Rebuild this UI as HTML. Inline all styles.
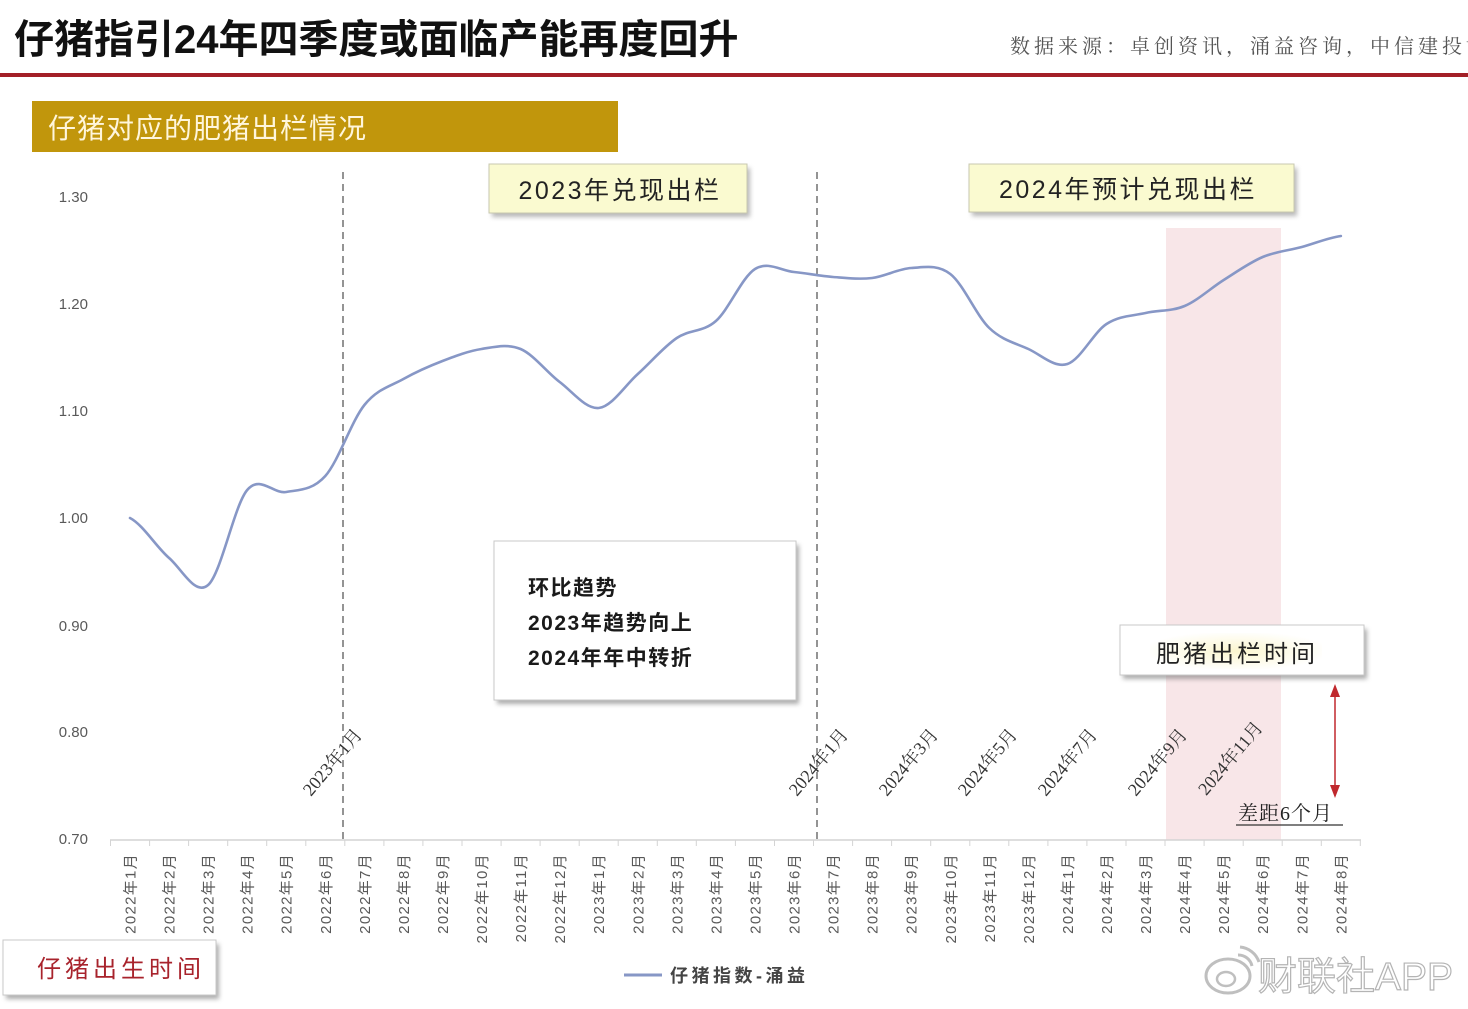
<!DOCTYPE html>
<html><head><meta charset="utf-8">
<style>
html,body{margin:0;padding:0;background:#fff;}
svg{display:block;}
text{font-family:"Liberation Sans","Noto Sans CJK SC",sans-serif;}
</style></head>
<body>
<svg width="1468" height="1009" viewBox="0 0 1468 1009" xmlns="http://www.w3.org/2000/svg">
<defs>
<filter id="sh" x="-10%" y="-10%" width="130%" height="140%">
<feGaussianBlur stdDeviation="2.5"/>
</filter>
<radialGradient id="glow" cx="50%" cy="50%" r="55%">
<stop offset="0%" stop-color="#fbf6cf"/>
<stop offset="100%" stop-color="#ffffff"/>
</radialGradient>
</defs>
<rect width="1468" height="1009" fill="#fff"/>

<!-- Header -->
<text x="14" y="53" font-size="40" font-weight="bold" fill="#111">仔猪指引24年四季度或面临产能再度回升</text>
<text x="1010" y="53" font-size="20" fill="#555" letter-spacing="4" style="font-family:'Liberation Serif','Noto Serif CJK SC',serif">数据来源：卓创资讯，涌益咨询，中信建投证券</text>
<rect x="0" y="73" width="1468" height="4" fill="#a31f27"/>

<!-- Gold banner -->
<rect x="32" y="101" width="586" height="51" fill="#c1960c"/>
<text x="48" y="138" font-size="28" fill="#fff6dc" letter-spacing="1">仔猪对应的肥猪出栏情况</text>

<!-- shaded region -->
<rect x="1166" y="228" width="115" height="612" fill="#f8e6e8"/>

<!-- Y labels -->
<g font-size="15" fill="#595959" text-anchor="end">
<text x="88" y="202">1.30</text>
<text x="88" y="309">1.20</text>
<text x="88" y="416">1.10</text>
<text x="88" y="523">1.00</text>
<text x="88" y="631">0.90</text>
<text x="88" y="737">0.80</text>
<text x="88" y="844">0.70</text>
</g>

<!-- axis -->
<line x1="110" y1="840" x2="1361" y2="840" stroke="#d4d4d4" stroke-width="1.5"/>
<g stroke="#d4d4d4" stroke-width="1">
<line x1="110.5" y1="840" x2="110.5" y2="846"/><line x1="149.6" y1="840" x2="149.6" y2="846"/><line x1="188.6" y1="840" x2="188.6" y2="846"/><line x1="227.7" y1="840" x2="227.7" y2="846"/><line x1="266.7" y1="840" x2="266.7" y2="846"/><line x1="305.8" y1="840" x2="305.8" y2="846"/><line x1="344.8" y1="840" x2="344.8" y2="846"/><line x1="383.9" y1="840" x2="383.9" y2="846"/><line x1="422.9" y1="840" x2="422.9" y2="846"/><line x1="462" y1="840" x2="462" y2="846"/><line x1="501.1" y1="840" x2="501.1" y2="846"/><line x1="540.1" y1="840" x2="540.1" y2="846"/><line x1="579.2" y1="840" x2="579.2" y2="846"/><line x1="618.2" y1="840" x2="618.2" y2="846"/><line x1="657.3" y1="840" x2="657.3" y2="846"/><line x1="696.3" y1="840" x2="696.3" y2="846"/><line x1="735.4" y1="840" x2="735.4" y2="846"/><line x1="774.5" y1="840" x2="774.5" y2="846"/><line x1="813.5" y1="840" x2="813.5" y2="846"/><line x1="852.6" y1="840" x2="852.6" y2="846"/><line x1="891.6" y1="840" x2="891.6" y2="846"/><line x1="930.7" y1="840" x2="930.7" y2="846"/><line x1="969.8" y1="840" x2="969.8" y2="846"/><line x1="1008.8" y1="840" x2="1008.8" y2="846"/><line x1="1047.9" y1="840" x2="1047.9" y2="846"/><line x1="1086.9" y1="840" x2="1086.9" y2="846"/><line x1="1126" y1="840" x2="1126" y2="846"/><line x1="1165" y1="840" x2="1165" y2="846"/><line x1="1204.1" y1="840" x2="1204.1" y2="846"/><line x1="1243.2" y1="840" x2="1243.2" y2="846"/><line x1="1282.2" y1="840" x2="1282.2" y2="846"/><line x1="1321.3" y1="840" x2="1321.3" y2="846"/><line x1="1360.3" y1="840" x2="1360.3" y2="846"/>
</g>

<!-- X labels -->
<g font-size="15" fill="#595959" text-anchor="end" letter-spacing="1.3">
<text transform="translate(135.5,853) rotate(-90)">2022年1月</text>
<text transform="translate(174.6,853) rotate(-90)">2022年2月</text>
<text transform="translate(213.6,853) rotate(-90)">2022年3月</text>
<text transform="translate(252.7,853) rotate(-90)">2022年4月</text>
<text transform="translate(291.7,853) rotate(-90)">2022年5月</text>
<text transform="translate(330.8,853) rotate(-90)">2022年6月</text>
<text transform="translate(369.9,853) rotate(-90)">2022年7月</text>
<text transform="translate(408.9,853) rotate(-90)">2022年8月</text>
<text transform="translate(448,853) rotate(-90)">2022年9月</text>
<text transform="translate(487,853) rotate(-90)">2022年10月</text>
<text transform="translate(526.1,853) rotate(-90)">2022年11月</text>
<text transform="translate(565.2,853) rotate(-90)">2022年12月</text>
<text transform="translate(604.2,853) rotate(-90)">2023年1月</text>
<text transform="translate(643.3,853) rotate(-90)">2023年2月</text>
<text transform="translate(682.3,853) rotate(-90)">2023年3月</text>
<text transform="translate(721.4,853) rotate(-90)">2023年4月</text>
<text transform="translate(760.5,853) rotate(-90)">2023年5月</text>
<text transform="translate(799.5,853) rotate(-90)">2023年6月</text>
<text transform="translate(838.6,853) rotate(-90)">2023年7月</text>
<text transform="translate(877.6,853) rotate(-90)">2023年8月</text>
<text transform="translate(916.7,853) rotate(-90)">2023年9月</text>
<text transform="translate(955.8,853) rotate(-90)">2023年10月</text>
<text transform="translate(994.8,853) rotate(-90)">2023年11月</text>
<text transform="translate(1033.9,853) rotate(-90)">2023年12月</text>
<text transform="translate(1072.9,853) rotate(-90)">2024年1月</text>
<text transform="translate(1112,853) rotate(-90)">2024年2月</text>
<text transform="translate(1151,853) rotate(-90)">2024年3月</text>
<text transform="translate(1190.1,853) rotate(-90)">2024年4月</text>
<text transform="translate(1229.2,853) rotate(-90)">2024年5月</text>
<text transform="translate(1268.2,853) rotate(-90)">2024年6月</text>
<text transform="translate(1307.3,853) rotate(-90)">2024年7月</text>
<text transform="translate(1346.4,853) rotate(-90)">2024年8月</text>
</g>

<!-- dashed lines -->
<line x1="343" y1="172" x2="343" y2="840" stroke="#7a7a7a" stroke-width="1.6" stroke-dasharray="7,5"/>
<line x1="817" y1="172" x2="817" y2="840" stroke="#7a7a7a" stroke-width="1.6" stroke-dasharray="7,5"/>

<!-- series -->
<path fill="none" stroke="#8797c6" stroke-width="2.6" stroke-linecap="round" d="M130,518 C143,524.7 156.1,546.8 169.1,558 C182.1,569.2 195.1,596.3 208.1,585 C221.1,573.7 234.2,505.5 247.2,490 C260.2,474.5 273.2,494.3 286.2,492 C299.2,489.7 312.3,490.5 325.3,476 C338.3,461.5 351.4,421.2 364.4,405 C377.4,388.8 390.4,386.3 403.4,379 C416.4,371.7 429.5,366 442.5,361 C455.5,356 468.5,351 481.5,349 C494.5,347 507.6,343.5 520.6,349 C533.6,354.5 546.7,372.2 559.7,382 C572.7,391.8 585.7,409.3 598.7,408 C611.7,406.7 624.8,385.7 637.8,374 C650.8,362.3 663.8,346.8 676.8,338 C689.8,329.2 702.9,332.5 715.9,321 C728.9,309.5 742,277.2 755,269 C768,260.8 781,270.7 794,272 C807,273.3 820.1,276 833.1,277 C846.1,278 859.1,279.5 872.1,278 C885.1,276.5 898.2,268.7 911.2,268 C924.2,267.3 937.3,264 950.3,274 C963.3,284 976.3,315.5 989.3,328 C1002.3,340.5 1015.4,343 1028.4,349 C1041.4,355 1054.4,368.2 1067.4,364 C1080.4,359.8 1093.5,332.5 1106.5,324 C1119.5,315.5 1132.6,316 1145.6,313 C1158.6,310 1171.6,311.5 1184.6,306 C1197.6,300.5 1210.7,288.2 1223.7,280 C1236.7,271.8 1249.7,262.5 1262.7,257 C1275.7,251.5 1288.8,250.5 1301.8,247 C1314.8,243.5 1327.9,237.8 1340.9,236"/>

<!-- rotated date labels -->
<g font-size="18" fill="#333" text-anchor="middle">
<text transform="translate(337,766) rotate(-50)" style="font-family:'Liberation Serif','Noto Serif CJK SC',serif">2023年1月</text>
<text transform="translate(823,766) rotate(-50)" style="font-family:'Liberation Serif','Noto Serif CJK SC',serif">2024年1月</text>
<text transform="translate(913,766) rotate(-50)" style="font-family:'Liberation Serif','Noto Serif CJK SC',serif">2024年3月</text>
<text transform="translate(992,766) rotate(-50)" style="font-family:'Liberation Serif','Noto Serif CJK SC',serif">2024年5月</text>
<text transform="translate(1072,766) rotate(-50)" style="font-family:'Liberation Serif','Noto Serif CJK SC',serif">2024年7月</text>
<text transform="translate(1162,766) rotate(-50)" style="font-family:'Liberation Serif','Noto Serif CJK SC',serif">2024年9月</text>
<text transform="translate(1235,762) rotate(-50)" style="font-family:'Liberation Serif','Noto Serif CJK SC',serif">2024年11月</text>
</g>

<!-- box 2023 -->
<rect x="492" y="168" width="258" height="49" fill="#888" opacity="0.6" filter="url(#sh)"/>
<rect x="489" y="164" width="258" height="49" fill="#fafad0" stroke="#c8c8b0" stroke-width="1"/>
<text x="620" y="199" font-size="25" fill="#222" text-anchor="middle" letter-spacing="2.5">2023年兑现出栏</text>

<!-- box 2024 -->
<rect x="972" y="168" width="325" height="48" fill="#888" opacity="0.6" filter="url(#sh)"/>
<rect x="969" y="164" width="325" height="48" fill="#fafad0" stroke="#c8c8b0" stroke-width="1"/>
<text x="1128" y="198" font-size="25" fill="#222" text-anchor="middle" letter-spacing="2.5">2024年预计兑现出栏</text>

<!-- box trend -->
<rect x="497" y="545" width="302" height="159" fill="#777" opacity="0.6" filter="url(#sh)"/>
<rect x="494" y="541" width="302" height="159" fill="#fff" stroke="#c8c8c8" stroke-width="1"/>
<g font-size="21" font-weight="bold" fill="#1a1a1a">
<text x="528" y="595" letter-spacing="1.5">环比趋势</text>
<text x="528" y="630" letter-spacing="1.5">2023年趋势向上</text>
<text x="528" y="665" letter-spacing="1.5">2024年年中转折</text>
</g>

<!-- box 肥猪出栏时间 -->
<rect x="1123" y="629" width="244" height="50" fill="#777" opacity="0.6" filter="url(#sh)"/>
<rect x="1120" y="625" width="244" height="50" fill="#fff" stroke="#c8c8c8" stroke-width="1"/>
<rect x="1150" y="633" width="172" height="36" fill="url(#glow)"/>
<text x="1237" y="662" font-size="24" fill="#222" text-anchor="middle" letter-spacing="3">肥猪出栏时间</text>

<!-- red arrow -->
<line x1="1335" y1="694" x2="1335" y2="788" stroke="#c0282d" stroke-width="1.5"/>
<polygon points="1335,684 1330,697 1340,697" fill="#c0282d"/>
<polygon points="1335,798 1330,785 1340,785" fill="#c0282d"/>

<!-- 差距6个月 -->
<text x="1238" y="820" font-size="20" fill="#222" letter-spacing="1" style="font-family:'Liberation Serif','Noto Serif CJK SC',serif">差距6个月</text>
<line x1="1236" y1="825" x2="1343" y2="825" stroke="#333" stroke-width="1.2"/>

<!-- bottom-left box -->
<rect x="6" y="944" width="213" height="55" fill="#777" opacity="0.6" filter="url(#sh)"/>
<rect x="3" y="940" width="213" height="55" fill="#fff" stroke="#c8c8c8" stroke-width="1"/>
<text x="37" y="977" font-size="24" fill="#a8232c" letter-spacing="4">仔猪出生时间</text>

<!-- legend -->
<line x1="624" y1="975" x2="662" y2="975" stroke="#8797c6" stroke-width="3"/>
<text x="670" y="982" font-size="18" font-weight="bold" fill="#444" letter-spacing="3.5">仔猪指数-涌益</text>

<!-- watermark -->
<g opacity="0.85">
<ellipse cx="1228" cy="976" rx="22" ry="17" fill="#fff" stroke="#b5b5b5" stroke-width="3"/>
<ellipse cx="1226" cy="979" rx="9" ry="7" fill="none" stroke="#b5b5b5" stroke-width="2.5"/>
<path d="M1238,955 A14,14 0 0 1 1252,966" fill="none" stroke="#b5b5b5" stroke-width="3"/>
<path d="M1240,947 A22,22 0 0 1 1259,962" fill="none" stroke="#b5b5b5" stroke-width="3"/>
<text x="1258" y="990" font-size="39" fill="#fff" stroke="#a8a8a8" stroke-width="1.2">财联社APP</text>
</g>
</svg>
</body></html>
